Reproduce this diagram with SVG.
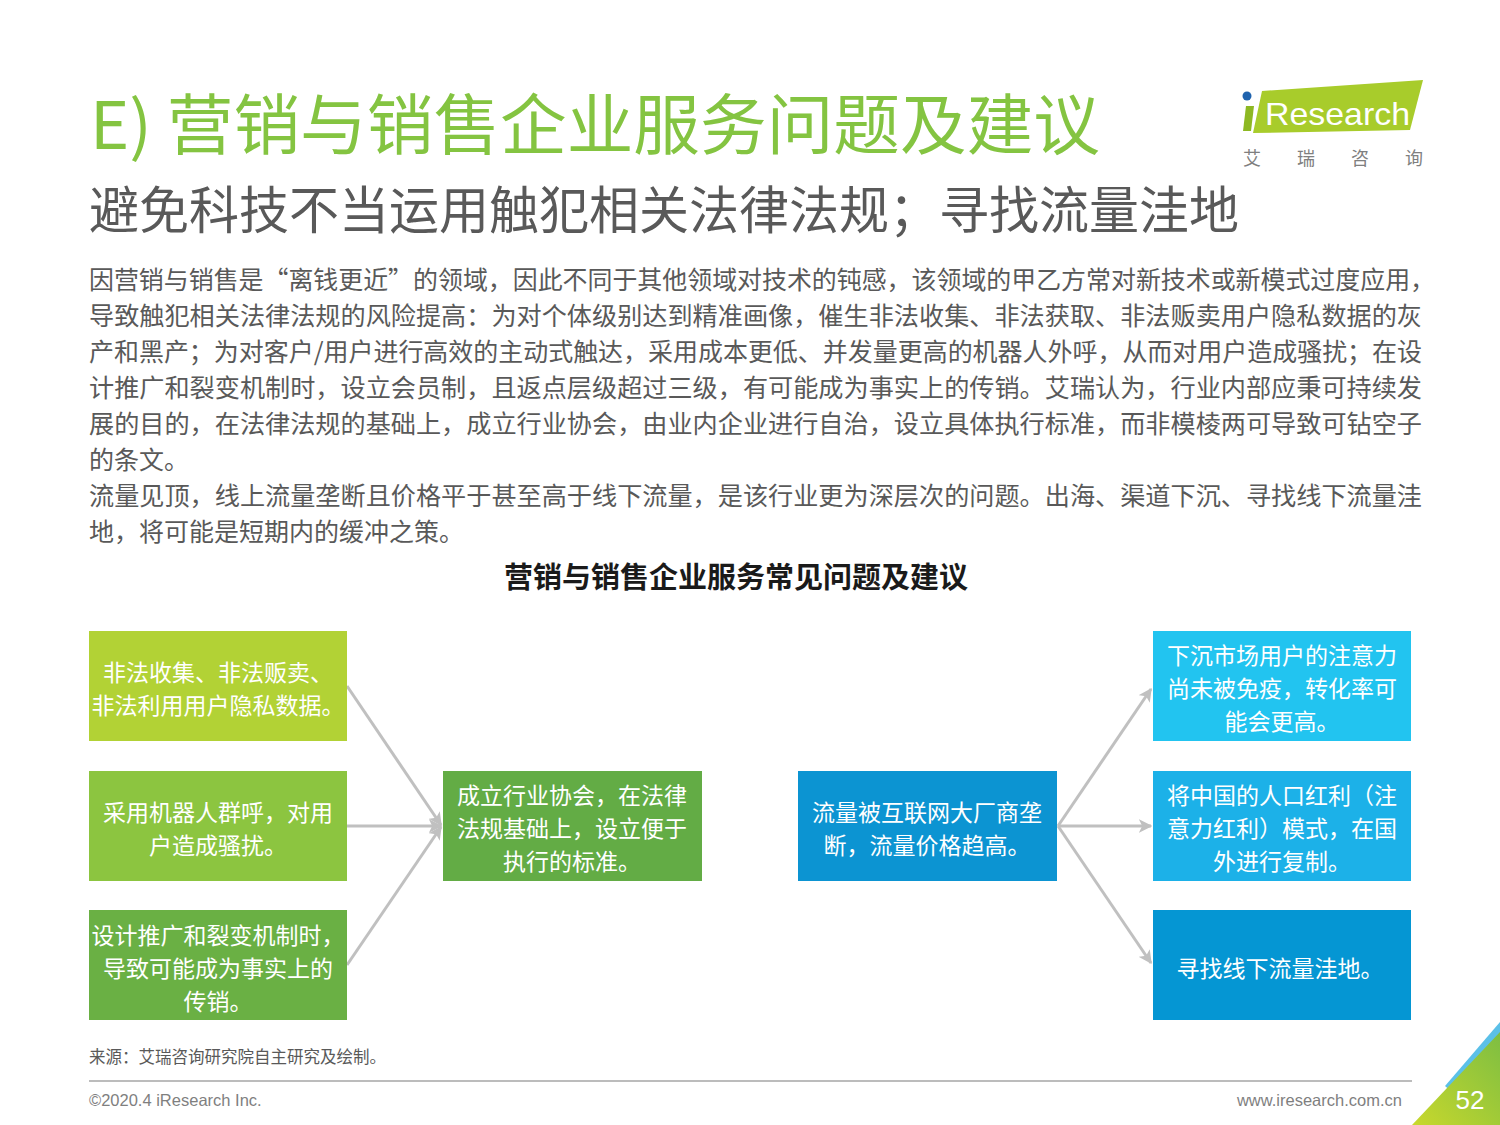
<svg xmlns="http://www.w3.org/2000/svg" width="1500" height="1125" viewBox="0 0 1500 1125">
<defs>
<style>
.cjk{font-family:"Noto Sans CJK SC","Noto Sans",sans-serif;}
.title{font-size:66px;fill:#84C441;}
.sub{font-size:51px;fill:#595959;}
.body{font-size:25px;fill:#595959;}
.ctitle{font-size:29px;font-weight:bold;fill:#1A1A1A;}
.bt{font-size:23px;fill:#FFFFFF;text-anchor:middle;}
.foot{font-family:"Liberation Sans",Arial,sans-serif;font-size:16.5px;fill:#7F7F7F;}
.conn{stroke:#C0C0C0;stroke-width:3;fill:none;marker-end:url(#arr);}
</style>
<marker id="arr" viewBox="0 0 10 10" refX="9" refY="5" markerWidth="4.5" markerHeight="4.5" orient="auto" markerUnits="strokeWidth">
<path d="M0,0 L10,5 L0,10 L2.5,5 Z" fill="#C0C0C0"/>
</marker>
<linearGradient id="cornerG" x1="0" y1="1" x2="1" y2="0">
<stop offset="0" stop-color="#C8D82C"/>
<stop offset="1" stop-color="#7DBE42"/>
</linearGradient>
</defs>
<rect width="1500" height="1125" fill="#FFFFFF"/>

<g id="header">
<text class="cjk title" x="90" y="149" textLength="1010" lengthAdjust="spacingAndGlyphs">E) 营销与销售企业服务问题及建议</text>
<text class="cjk sub" x="89" y="229" textLength="1150" lengthAdjust="spacingAndGlyphs">避免科技不当运用触犯相关法律法规；寻找流量洼地</text>
</g>

<g id="logo">
<polygon points="1262,91 1423,80 1410,130 1253,133" fill="#A8CC2B"/>
<polygon points="1246,106 1254,106 1251,131 1243,131" fill="#8DB822"/>
<circle cx="1247" cy="96" r="4.5" fill="#1F63AE"/>
<text x="1265" y="125" font-family="'Liberation Sans',Arial,sans-serif" font-size="32" fill="#FFFFFF" textLength="145" lengthAdjust="spacingAndGlyphs">Research</text>
<text class="cjk" x="1252" y="165" font-size="18" fill="#7F7F7F" text-anchor="middle">艾</text>
<text class="cjk" x="1306" y="165" font-size="18" fill="#7F7F7F" text-anchor="middle">瑞</text>
<text class="cjk" x="1360" y="165" font-size="18" fill="#7F7F7F" text-anchor="middle">咨</text>
<text class="cjk" x="1414" y="165" font-size="18" fill="#7F7F7F" text-anchor="middle">询</text>
</g>

<g id="body-text" class="cjk body">
<text x="89" y="289" textLength="1346" lengthAdjust="spacingAndGlyphs">因营销与销售是“离钱更近”的领域，因此不同于其他领域对技术的钝感，该领域的甲乙方常对新技术或新模式过度应用，</text>
<text x="89" y="325" textLength="1333" lengthAdjust="spacingAndGlyphs">导致触犯相关法律法规的风险提高：为对个体级别达到精准画像，催生非法收集、非法获取、非法贩卖用户隐私数据的灰</text>
<text x="89" y="361" textLength="1333" lengthAdjust="spacingAndGlyphs">产和黑产；为对客户/用户进行高效的主动式触达，采用成本更低、并发量更高的机器人外呼，从而对用户造成骚扰；在设</text>
<text x="89" y="397" textLength="1333" lengthAdjust="spacingAndGlyphs">计推广和裂变机制时，设立会员制，且返点层级超过三级，有可能成为事实上的传销。艾瑞认为，行业内部应秉可持续发</text>
<text x="89" y="433" textLength="1333" lengthAdjust="spacingAndGlyphs">展的目的，在法律法规的基础上，成立行业协会，由业内企业进行自治，设立具体执行标准，而非模棱两可导致可钻空子</text>
<text x="89" y="469">的条文。</text>
<text x="89" y="505" textLength="1333" lengthAdjust="spacingAndGlyphs">流量见顶，线上流量垄断且价格平于甚至高于线下流量，是该行业更为深层次的问题。出海、渠道下沉、寻找线下流量洼</text>
<text x="89" y="541">地，将可能是短期内的缓冲之策。</text>
</g>

<text id="chart-title" class="cjk ctitle" x="736" y="588" text-anchor="middle">营销与销售企业服务常见问题及建议</text>

<g id="connectors">
<line class="conn" x1="347" y1="686" x2="441" y2="825"/>
<line class="conn" x1="347" y1="826" x2="441" y2="826"/>
<line class="conn" x1="347" y1="965" x2="441" y2="827"/>
<line class="conn" x1="1058" y1="826" x2="1151" y2="689"/>
<line class="conn" x1="1058" y1="826" x2="1151" y2="826"/>
<line class="conn" x1="1058" y1="826" x2="1151" y2="963"/>
</g>

<g id="node-l1">
<rect x="89" y="631" width="258" height="110" fill="#B2D235"/>
<text class="cjk bt" x="218" y="681">非法收集、非法贩卖、</text>
<text class="cjk bt" x="218" y="714">非法利用用户隐私数据。</text>
</g>
<g id="node-l2">
<rect x="89" y="771" width="258" height="110" fill="#8CC540"/>
<text class="cjk bt" x="218" y="821">采用机器人群呼，对用</text>
<text class="cjk bt" x="218" y="854">户造成骚扰。</text>
</g>
<g id="node-l3">
<rect x="89" y="910" width="258" height="110" fill="#6AB044"/>
<text class="cjk bt" x="218" y="944">设计推广和裂变机制时，</text>
<text class="cjk bt" x="218" y="977">导致可能成为事实上的</text>
<text class="cjk bt" x="218" y="1010">传销。</text>
</g>
<g id="node-center">
<rect x="443" y="771" width="259" height="110" fill="#63AC45"/>
<text class="cjk bt" x="572" y="804">成立行业协会，在法律</text>
<text class="cjk bt" x="572" y="837">法规基础上，设立便于</text>
<text class="cjk bt" x="572" y="870">执行的标准。</text>
</g>
<g id="node-traffic">
<rect x="798" y="771" width="259" height="110" fill="#0C94D2"/>
<text class="cjk bt" x="927" y="821">流量被互联网大厂商垄</text>
<text class="cjk bt" x="927" y="854">断，流量价格趋高。</text>
</g>
<g id="node-r1">
<rect x="1153" y="631" width="258" height="110" fill="#22C4F0"/>
<text class="cjk bt" x="1282" y="664">下沉市场用户的注意力</text>
<text class="cjk bt" x="1282" y="697">尚未被免疫，转化率可</text>
<text class="cjk bt" x="1282" y="730">能会更高。</text>
</g>
<g id="node-r2">
<rect x="1153" y="771" width="258" height="110" fill="#1CB1E8"/>
<text class="cjk bt" x="1282" y="804">将中国的人口红利（注</text>
<text class="cjk bt" x="1282" y="837">意力红利）模式，在国</text>
<text class="cjk bt" x="1282" y="870">外进行复制。</text>
</g>
<g id="node-r3">
<rect x="1153" y="910" width="258" height="110" fill="#0596D3"/>
<text class="cjk bt" x="1280" y="977">寻找线下流量洼地。</text>
</g>

<g id="footer">
<text class="cjk" x="89" y="1063" font-size="16.5" fill="#595959">来源：艾瑞咨询研究院自主研究及绘制。</text>
<line x1="89" y1="1081" x2="1412" y2="1081" stroke="#A6A6A6" stroke-width="1.5"/>
<text class="foot" x="89" y="1106">©2020.4 iResearch Inc.</text>
<text class="foot" x="1402" y="1106" text-anchor="end">www.iresearch.com.cn</text>
<polygon points="1445,1086 1500,1022 1500,1042 1453,1093" fill="#5BC0E8"/>
<polygon points="1412,1125 1500,1032 1500,1125" fill="url(#cornerG)"/>
<text x="1470" y="1109" font-family="'Liberation Sans',Arial,sans-serif" font-size="26" fill="#FFFFFF" text-anchor="middle">52</text>
</g>
</svg>
